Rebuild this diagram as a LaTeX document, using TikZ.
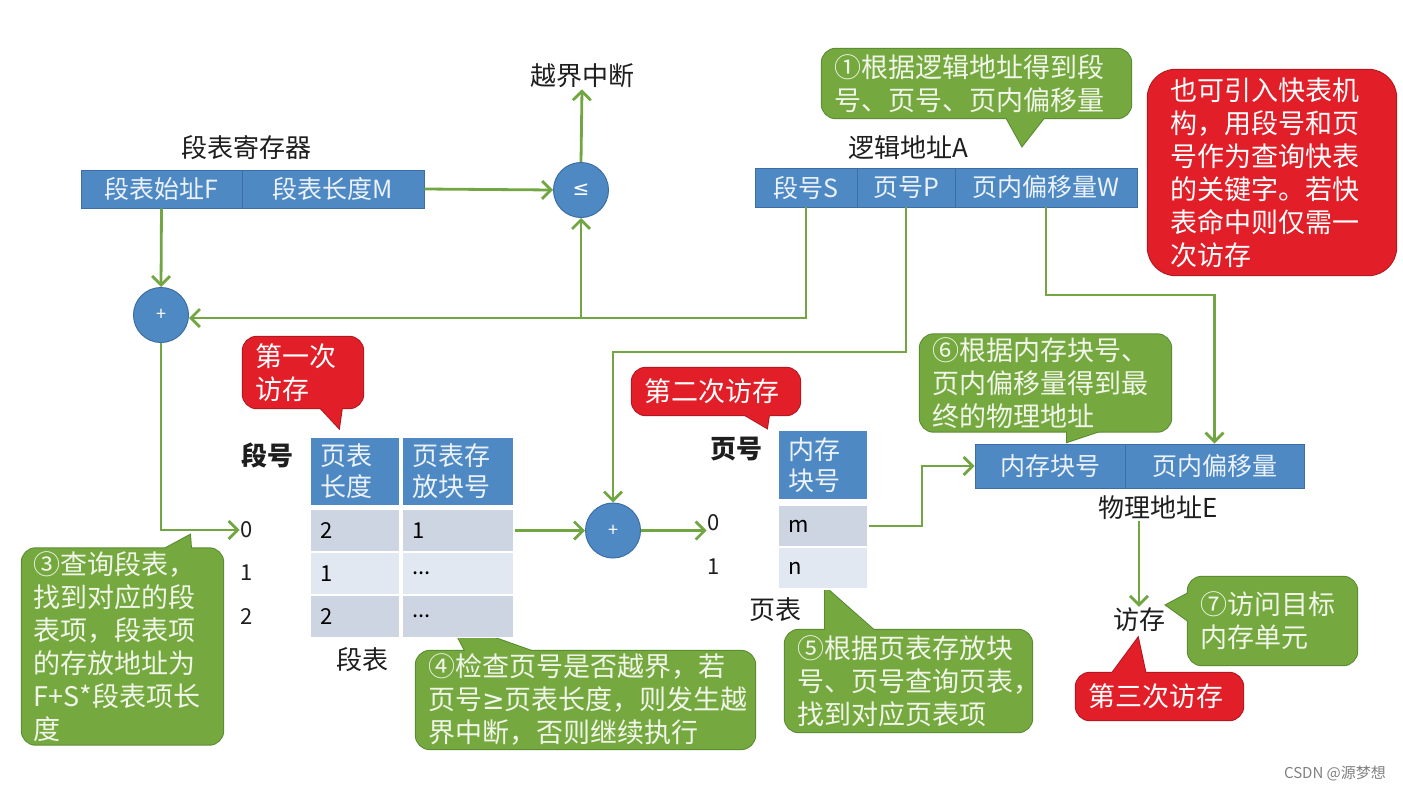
\documentclass[tikz,border=0pt]{standalone}
\usepackage{fontspec}
\setmainfont{Noto Sans CJK SC}
\newfontfamily\dejavu{DejaVu Sans}
\usetikzlibrary{arrows.meta,calc}
\pgfdeclarelayer{background}
\pgfdeclarelayer{canvas}
\pgfsetlayers{canvas,background,main}
\definecolor{boxblue}{RGB}{79,137,195}
\definecolor{boxedge}{RGB}{60,110,165}
\definecolor{boxtext}{RGB}{235,242,250}
\definecolor{agreen}{RGB}{114,166,66}
\definecolor{gfill}{RGB}{118,168,64}
\definecolor{gborder}{RGB}{88,138,48}
\definecolor{gtext}{RGB}{240,246,232}
\definecolor{rfill}{RGB}{226,30,40}
\definecolor{rborder}{RGB}{176,24,32}
\definecolor{rowdark}{RGB}{205,213,227}
\definecolor{rowlight}{RGB}{226,232,241}
\definecolor{labelblack}{RGB}{30,30,30}
\newcommand\callshape[6]{%
\begin{pgfonlayer}{background}
\draw[#3, line width=2pt, rounded corners=14pt] (#1.south west) rectangle (#1.north east);
\draw[#3, line width=2pt, line join=miter] (#5) -- (#4) -- (#6);
\fill[#2, rounded corners=14pt] (#1.south west) rectangle (#1.north east);
\fill[#2] (#5) -- (#4) -- (#6) -- cycle;
\end{pgfonlayer}}
\tikzset{
 arr/.style={draw=agreen, line width=2.8pt, -{Straight Barb[length=9pt,width=18pt,line width=2.8pt]}},
 bbox/.style={fill=boxblue, draw=boxedge, line width=0.8pt, text=boxtext, font=\fontsize{25}{29}\selectfont, inner sep=0pt},
 circ/.style={circle, fill=boxblue, draw=boxedge, line width=1pt, minimum size=55pt, inner sep=0pt, text=white},
 lbl/.style={font=\fontsize{26}{30}\selectfont, text=labelblack, inner sep=1pt},
 num/.style={font=\fontsize{22}{26}\selectfont, text=labelblack, inner sep=1pt},
 gcall/.style={text=gtext, align=left, font=\fontsize{27}{33}\selectfont, inner xsep=12pt, inner ysep=3pt},
 rcall/.style={text=white, align=left, font=\fontsize{27}{33}\selectfont, inner xsep=12pt, inner ysep=3pt},
 tcell/.style={draw=white, line width=1.5pt, inner xsep=10pt, inner ysep=0pt, align=left, font=\fontsize{22}{26}\selectfont, text=black},
 thead/.style={tcell, fill=boxblue, text=boxtext, font=\fontsize{26}{31}\selectfont},
}
\begin{document}
\begin{tikzpicture}[x=1pt,y=-1pt]
\begin{pgfonlayer}{canvas}
\fill[white] (0,0) rectangle (1403,790);
\end{pgfonlayer}
\useasboundingbox (0,0) rectangle (1403,790);

% top labels
\node[lbl] (ovf) at (582,76) {越界中断};
\node[lbl] (segreglbl) at (246,148) {段表寄存器};
\node[lbl] (logaddr) at (908,148) {逻辑地址A};

% segment register
\node[bbox, minimum width=161pt, minimum height=38pt] (segF) at (161.5,189) {段表始址F};
\node[bbox, minimum width=182pt, minimum height=38pt] (segM) at (333,189) {段表长度M};

% logical address
\node[bbox, minimum width=102pt, minimum height=39pt] (lS) at (806,187.5) {段号S};
\node[bbox, minimum width=98pt, minimum height=39pt] (lP) at (906,187.5) {页号P};
\node[bbox, minimum width=182pt, minimum height=39pt] (lW) at (1046,187.5) {页内偏移量W};

% physical address
\node[bbox, minimum width=150pt, minimum height=44pt] (pB) at (1050,466) {内存块号};
\node[bbox, minimum width=179pt, minimum height=44pt] (pW) at (1214.5,466) {页内偏移量};
\node[lbl] (physlbl) at (1158,508) {物理地址E};
\node[lbl] (mem) at (1139,620) {访存};

% circles
\node[circ, font={\dejavu\fontsize{20}{22}\selectfont}] (cmp) at (581,190) {≤};
\node[circ, font=\fontsize{18}{20}\selectfont] (add1) at (161,315) {+};
\node[circ, font=\fontsize{18}{20}\selectfont] (add2) at (613,530.5) {+};

% segment table
\node[lbl, font=\bfseries\fontsize{26}{30}\selectfont] (segnolbl) at (267,455) {段号};
\node[thead, text width=70pt, minimum height=69pt] (h1) at (355,471.5) {页表\\长度};
\node[thead, text width=92pt, minimum height=69pt] (h2) at (458,471.5) {页表存\\放块号};
\node[tcell, fill=rowdark, text width=70pt, minimum height=42pt] (r0a) at (355,530.5) {2};
\node[tcell, fill=rowdark, text width=92pt, minimum height=42pt] (r0b) at (458,530.5) {1};
\node[tcell, fill=rowlight, text width=70pt, minimum height=42pt] (r1a) at (355,573.5) {1};
\node[tcell, fill=rowlight, text width=92pt, minimum height=42pt] (r1b) at (458,573.5) {...};
\node[tcell, fill=rowdark, text width=70pt, minimum height=42pt] (r2a) at (355,616.5) {2};
\node[tcell, fill=rowdark, text width=92pt, minimum height=42pt] (r2b) at (458,616.5) {...};
\node[num] (s0) at (247,530) {0};
\node[num] (s1) at (247,573) {1};
\node[num] (s2) at (247,617) {2};
\node[lbl] (segtbl) at (362,660) {段表};

% page table
\node[lbl, font=\bfseries\fontsize{26}{30}\selectfont] (pgnolbl) at (736,449) {页号};
\node[thead, text width=70pt, minimum height=70pt] (ph) at (823,465) {内存\\块号};
\node[tcell, fill=rowdark, text width=70pt, minimum height=42pt] (pm) at (823,526) {m};
\node[tcell, fill=rowlight, text width=70pt, minimum height=42pt] (pn) at (823,568) {n};
\node[num] (p0) at (714,523) {0};
\node[num] (p1) at (714,567) {1};
\node[lbl] (pgtbl) at (775,610) {页表};

% connectors
\draw[arr] (segM.east) -- (cmp.west);
\draw[arr] (cmp.north) -- (ovf.south);
\draw[arr] (segF.south) -- (add1.north);
\coordinate (sbend) at (700,318);
\draw[arr] (lS.south) |- (sbend) -- (sbend -| add1.east);
\draw[arr] (cmp.south |- sbend) -- (cmp.south);
\draw[arr] (add1.south) |- (s0.west);
\coordinate (pbend) at (750,352);
\draw[arr] (lP.south) |- (pbend) -| (add2.north);
\draw[arr] (r0b.east) -- (add2.west);
\draw[arr] (add2.east) -- (add2.east -| p0.west);
\coordinate (mbx) at (922,0);
\draw[arr] (pm.east) -- (pm.east -| mbx) |- (pB.west);
\coordinate (wbend) at (1100,295);
\draw[arr] (lW.south) |- (wbend) -| (pW.north);
\draw[arr] (physlbl.south -| mem.north) -- (mem.north);

% callouts
\node[gcall, text width=285pt, minimum height=69pt] (c1) at (976.5,83.5) {①根据逻辑地址得到段\\号、页号、页内偏移量};
\callshape{c1}{gfill}{gborder}{1022,146}{1002,110}{1050,110}

\node[gcall, text width=177pt, minimum height=187pt] (c3) at (122.5,646.5) {③查询段表，\\找到对应的段\\表项，段表项\\的存放地址为\\F+S*段表项长\\度};
\callshape{c3}{gfill}{gborder}{190,535}{140,562}{192,562}

\node[gcall, text width=315pt, minimum height=96pt] (c4) at (585.5,700) {④检查页号是否越界，若\\页号{\dejavu ≥}页表长度，则发生越\\界中断，否则继续执行};
\callshape{c4}{gfill}{gborder}{450,622}{470,660}{557,660}

\node[gcall, text width=223pt, minimum height=102pt] (c5) at (908.5,681) {⑤根据页表存放块\\号、页号查询页表，\\找到对应页表项};
\callshape{c5}{gfill}{gborder}{825,587}{825,640}{885,640}

\node[gcall, text width=227pt, minimum height=90pt] (c6) at (1045.5,383) {⑥根据内存块号、\\页内偏移量得到最\\终的物理地址};
\callshape{c6}{gfill}{gborder}{1067,442}{1067,420}{1133,420}

\node[gcall, text width=145pt, minimum height=88pt] (c7) at (1272.5,621) {⑦访问目标\\内存单元};
\callshape{c7}{gfill}{gborder}{1166,605}{1198,588}{1198,628}

\node[rcall, text width=96pt, minimum height=71pt] (r1) at (303,372.5) {第一次\\访存};
\callshape{r1}{rfill}{rborder}{339,428}{313,400}{343,400}

\node[rcall, text width=144pt, minimum height=47pt] (r2) at (716,391.5) {第二次访存};
\callshape{r2}{rfill}{rborder}{767,428}{733,408}{770,408}

\node[rcall, text width=143pt, minimum height=47pt] (r3) at (1159.5,696.5) {第三次访存};
\callshape{r3}{rfill}{rborder}{1138,638}{1107,680}{1147,680}

\node[rcall, text width=204pt, inner xsep=22pt, minimum height=205pt] (tlb) at (1272,172.5) {也可引入快表机\\构，用段号和页\\号作为查询快表\\的关键字。若快\\表命中则仅需一\\次访存};
\begin{pgfonlayer}{background}
\draw[rborder, line width=2pt, rounded corners=28pt] (tlb.south west) rectangle (tlb.north east);
\fill[rfill, rounded corners=28pt] (tlb.south west) rectangle (tlb.north east);
\end{pgfonlayer}

% watermark
\node[text=gray, font=\fontsize{15}{18}\selectfont] (wm) at (1335,773) {CSDN @源梦想};
\end{tikzpicture}
\end{document}
